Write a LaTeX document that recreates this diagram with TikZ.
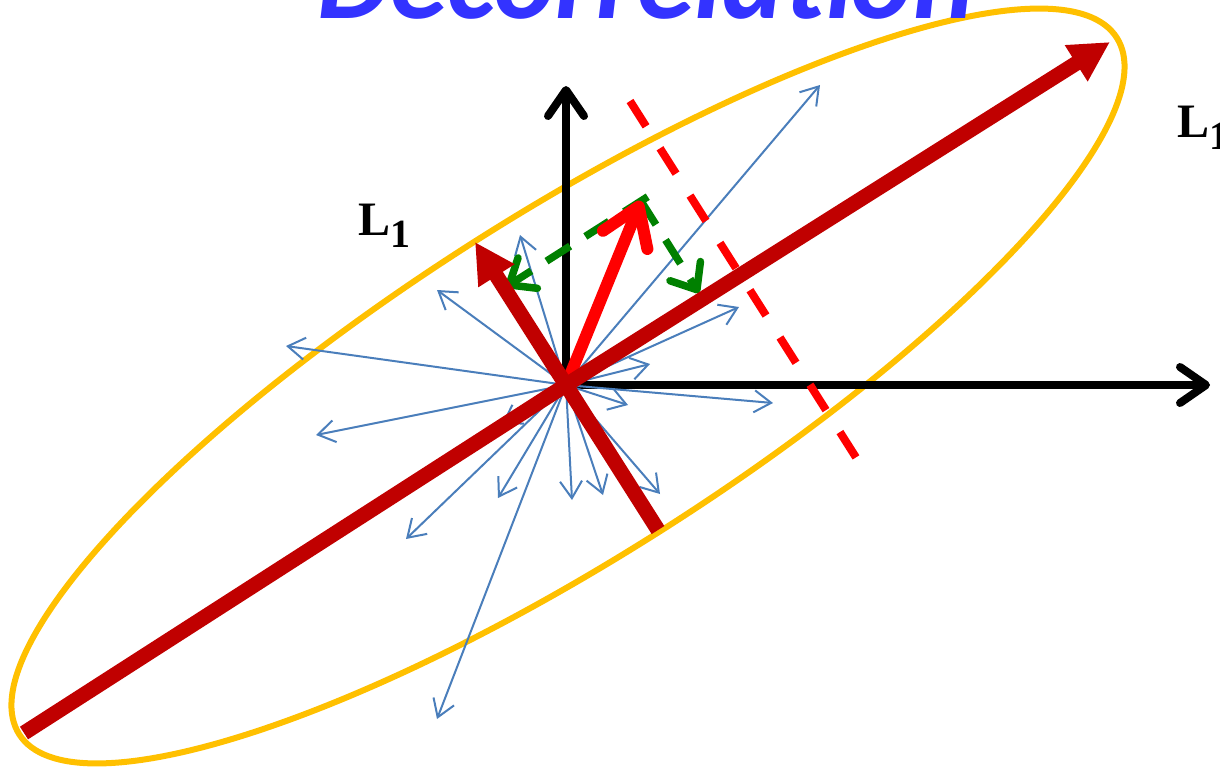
\documentclass[tikz,border=0pt]{standalone}
\usepackage{fontspec}
\setmainfont{Liberation Serif}
\newfontfamily\titlefont{Carlito}
\usetikzlibrary{arrows.meta,calc}
\definecolor{axred}{RGB}{192,0,0}
\definecolor{vred}{RGB}{255,0,0}
\definecolor{ellyellow}{RGB}{255,192,0}
\definecolor{arrowblue}{RGB}{74,126,187}
\definecolor{projgreen}{RGB}{0,128,0}
\definecolor{titleblue}{RGB}{51,51,255}
\begin{document}
\begin{tikzpicture}[x=1pt,y=-1pt,
  ellipsestyle/.style={draw=ellyellow, line width=6pt},
  axisline/.style={draw=black, line width=8pt, -{Straight Barb[length=26pt,width=36pt,round]}},
  bluearrow/.style={draw=arrowblue, line width=2pt, -{Straight Barb[length=17pt,width=22pt]}},
  pcaaxis/.style={draw=axred, line width=15pt, -{Triangle[length=40pt,width=40pt]}},
  pcaline/.style={draw=axred, line width=15pt},
  vecarrow/.style={draw=vred, line width=12pt, line cap=round, -{Straight Barb[length=36pt,width=48pt,round]}},
  cutline/.style={draw=vred, line width=8pt, dash pattern=on 30pt off 26pt},
  projline/.style={draw=projgreen, line width=7.5pt, dash pattern=on 28pt off 18pt, -{Straight Barb[length=22pt,width=36pt,round]}},
  lbl/.style={anchor=base west, inner sep=0pt, font=\bfseries\fontsize{48}{48}\selectfont}
]
\useasboundingbox (0,0) rectangle (1220,772);
% key points
\coordinate (O) at (566,385);
\coordinate (C) at (568,386);
\coordinate (A1) at (1110,42);
\coordinate (A2) at (24,733);
\coordinate (SA) at (475,242);
\coordinate (SB) at (658,530);
\coordinate (P) at (641,201);
% ellipse
\draw[ellipsestyle, rotate around={32.4:(C)}] (C) ellipse [x radius=650, y radius=172];
% coordinate axes
\coordinate (XE) at (1210,385);
\coordinate (YE) at (566,86);
\draw[axisline] (O) -- (XE);
\draw[axisline] (O) -- (YE);
% blue data arrows
\coordinate (b1) at (820,85);
\coordinate (b2) at (520,235);
\coordinate (b3) at (437,290);
\coordinate (b4) at (286,346);
\coordinate (b5) at (316,435);
\coordinate (b6) at (502,424);
\coordinate (b7) at (406,539);
\coordinate (b8) at (498,498);
\coordinate (b9) at (437,719);
\coordinate (b10) at (572,500);
\coordinate (b11) at (603,495);
\coordinate (b12) at (660,494);
\coordinate (b13) at (628,405);
\coordinate (b14) at (773,403);
\coordinate (b15) at (650,364);
\coordinate (b16) at (739,307);
\draw[bluearrow] (O) -- (b1);
\draw[bluearrow] (O) -- (b2);
\draw[bluearrow] (O) -- (b3);
\draw[bluearrow] (O) -- (b4);
\draw[bluearrow] (O) -- (b5);
\draw[bluearrow] (O) -- (b6);
\draw[bluearrow] (O) -- (b7);
\draw[bluearrow] (O) -- (b8);
\draw[bluearrow] (O) -- (b9);
\draw[bluearrow] (O) -- (b10);
\draw[bluearrow] (O) -- (b11);
\draw[bluearrow] (O) -- (b12);
\draw[bluearrow] (O) -- (b13);
\draw[bluearrow] (O) -- (b14);
\draw[bluearrow] (O) -- (b15);
\draw[bluearrow] (O) -- (b16);
% red dashed cut line (parallel to short axis)
\coordinate (D1) at (630,101);
\coordinate (D2) at (857,459);
\draw[cutline] (D1) -- (D2);
% green projections
\coordinate (PM) at ($(O)!(P)!(A1)$);
\coordinate (PS) at ($(O)!(P)!(SA)$);
\coordinate (PG) at ($(P)!-8pt!(PS)$);
\draw[projline, shorten >=2pt] (PG) -- (PS);
\draw[projline, shorten >=7pt] (P) -- (PM);
% red data vector
\draw[vecarrow] (O) -- (P);
% principal axes
\draw[pcaline] (O) -- (A2);
\draw[pcaline] (O) -- (SB);
\draw[pcaaxis] (O) -- (A1);
\draw[pcaaxis] (O) -- (SA);
% labels
\node[lbl] (L1a) at (358,235) {L\raisebox{-12pt}{\fontsize{40}{40}\selectfont 1}};
\node[lbl] (L1b) at (1177,137) {L\raisebox{-12pt}{\fontsize{40}{40}\selectfont 1}};
\node[anchor=base, inner sep=0pt, text=titleblue] (title) at (646,18)
  {\titlefont\bfseries\itshape\fontsize{116}{116}\selectfont Decorrelation};
\end{tikzpicture}
\end{document}
